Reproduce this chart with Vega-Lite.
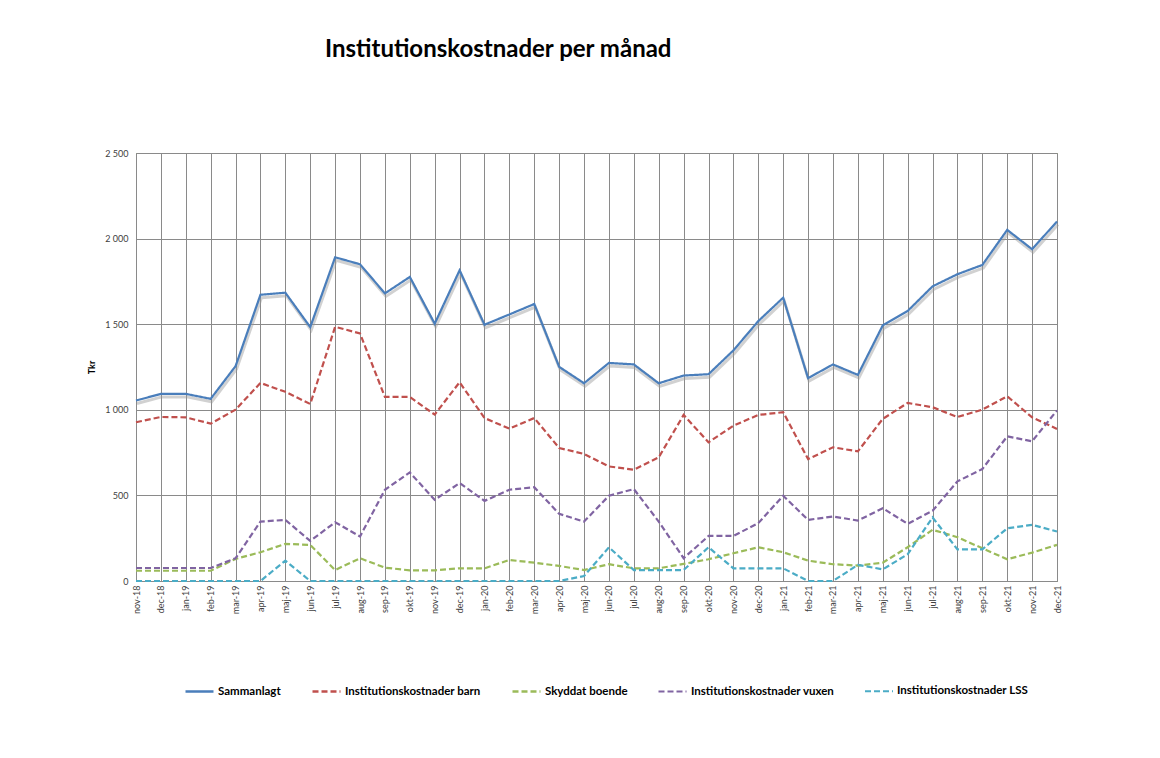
{
  "$schema": "https://vega.github.io/schema/vega-lite/v6.json",
  "autosize": {"type": "none"},
  "width": 921,
  "height": 428,
  "padding": {"left": 136, "top": 153, "right": 103, "bottom": 177},
  "background": "white",
  "title": {
    "text": "Institutionskostnader per månad",
    "anchor": "start",
    "frame": "group",
    "dx": 189,
    "offset": 87,
    "font": "Lato",
    "fontSize": 24,
    "fontWeight": "bold",
    "color": "#000000"
  },
  "data": {
    "values": [
      {"month": "nov-18", "Sammanlagt": 1054, "Institutionskostnader barn": 927, "Skyddat boende": 60, "Institutionskostnader vuxen": 76, "Institutionskostnader LSS": 0},
      {"month": "dec-18", "Sammanlagt": 1093, "Institutionskostnader barn": 958, "Skyddat boende": 60, "Institutionskostnader vuxen": 76, "Institutionskostnader LSS": 0},
      {"month": "jan-19", "Sammanlagt": 1093, "Institutionskostnader barn": 956, "Skyddat boende": 60, "Institutionskostnader vuxen": 76, "Institutionskostnader LSS": 0},
      {"month": "feb-19", "Sammanlagt": 1064, "Institutionskostnader barn": 919, "Skyddat boende": 60, "Institutionskostnader vuxen": 76, "Institutionskostnader LSS": 0},
      {"month": "mar-19", "Sammanlagt": 1255, "Institutionskostnader barn": 1001, "Skyddat boende": 129, "Institutionskostnader vuxen": 133, "Institutionskostnader LSS": 0},
      {"month": "apr-19", "Sammanlagt": 1672, "Institutionskostnader barn": 1157, "Skyddat boende": 168, "Institutionskostnader vuxen": 347, "Institutionskostnader LSS": 0},
      {"month": "maj-19", "Sammanlagt": 1684, "Institutionskostnader barn": 1105, "Skyddat boende": 217, "Institutionskostnader vuxen": 357, "Institutionskostnader LSS": 119},
      {"month": "jun-19", "Sammanlagt": 1483, "Institutionskostnader barn": 1034, "Skyddat boende": 211, "Institutionskostnader vuxen": 234, "Institutionskostnader LSS": 0},
      {"month": "jul-19", "Sammanlagt": 1891, "Institutionskostnader barn": 1485, "Skyddat boende": 64, "Institutionskostnader vuxen": 343, "Institutionskostnader LSS": 0},
      {"month": "aug-19", "Sammanlagt": 1850, "Institutionskostnader barn": 1446, "Skyddat boende": 133, "Institutionskostnader vuxen": 260, "Institutionskostnader LSS": 0},
      {"month": "sep-19", "Sammanlagt": 1680, "Institutionskostnader barn": 1075, "Skyddat boende": 78, "Institutionskostnader vuxen": 533, "Institutionskostnader LSS": 0},
      {"month": "okt-19", "Sammanlagt": 1776, "Institutionskostnader barn": 1075, "Skyddat boende": 62, "Institutionskostnader vuxen": 634, "Institutionskostnader LSS": 0},
      {"month": "nov-19", "Sammanlagt": 1503, "Institutionskostnader barn": 972, "Skyddat boende": 62, "Institutionskostnader vuxen": 474, "Institutionskostnader LSS": 0},
      {"month": "dec-19", "Sammanlagt": 1815, "Institutionskostnader barn": 1161, "Skyddat boende": 74, "Institutionskostnader vuxen": 572, "Institutionskostnader LSS": 0},
      {"month": "jan-20", "Sammanlagt": 1497, "Institutionskostnader barn": 952, "Skyddat boende": 74, "Institutionskostnader vuxen": 468, "Institutionskostnader LSS": 0},
      {"month": "feb-20", "Sammanlagt": 1557, "Institutionskostnader barn": 890, "Skyddat boende": 123, "Institutionskostnader vuxen": 533, "Institutionskostnader LSS": 0},
      {"month": "mar-20", "Sammanlagt": 1618, "Institutionskostnader barn": 952, "Skyddat boende": 107, "Institutionskostnader vuxen": 548, "Institutionskostnader LSS": 0},
      {"month": "apr-20", "Sammanlagt": 1251, "Institutionskostnader barn": 777, "Skyddat boende": 88, "Institutionskostnader vuxen": 392, "Institutionskostnader LSS": 0},
      {"month": "maj-20", "Sammanlagt": 1155, "Institutionskostnader barn": 742, "Skyddat boende": 64, "Institutionskostnader vuxen": 347, "Institutionskostnader LSS": 29},
      {"month": "jun-20", "Sammanlagt": 1274, "Institutionskostnader barn": 669, "Skyddat boende": 98, "Institutionskostnader vuxen": 498, "Institutionskostnader LSS": 197},
      {"month": "jul-20", "Sammanlagt": 1265, "Institutionskostnader barn": 650, "Skyddat boende": 74, "Institutionskostnader vuxen": 537, "Institutionskostnader LSS": 64},
      {"month": "aug-20", "Sammanlagt": 1155, "Institutionskostnader barn": 722, "Skyddat boende": 74, "Institutionskostnader vuxen": 347, "Institutionskostnader LSS": 64},
      {"month": "sep-20", "Sammanlagt": 1200, "Institutionskostnader barn": 970, "Skyddat boende": 100, "Institutionskostnader vuxen": 133, "Institutionskostnader LSS": 64},
      {"month": "okt-20", "Sammanlagt": 1208, "Institutionskostnader barn": 810, "Skyddat boende": 127, "Institutionskostnader vuxen": 263, "Institutionskostnader LSS": 197},
      {"month": "nov-20", "Sammanlagt": 1347, "Institutionskostnader barn": 907, "Skyddat boende": 162, "Institutionskostnader vuxen": 263, "Institutionskostnader LSS": 74},
      {"month": "dec-20", "Sammanlagt": 1518, "Institutionskostnader barn": 970, "Skyddat boende": 197, "Institutionskostnader vuxen": 338, "Institutionskostnader LSS": 74},
      {"month": "jan-21", "Sammanlagt": 1655, "Institutionskostnader barn": 986, "Skyddat boende": 168, "Institutionskostnader vuxen": 498, "Institutionskostnader LSS": 74},
      {"month": "feb-21", "Sammanlagt": 1185, "Institutionskostnader barn": 712, "Skyddat boende": 119, "Institutionskostnader vuxen": 357, "Institutionskostnader LSS": 0},
      {"month": "mar-21", "Sammanlagt": 1265, "Institutionskostnader barn": 781, "Skyddat boende": 98, "Institutionskostnader vuxen": 377, "Institutionskostnader LSS": 0},
      {"month": "apr-21", "Sammanlagt": 1204, "Institutionskostnader barn": 757, "Skyddat boende": 90, "Institutionskostnader vuxen": 353, "Institutionskostnader LSS": 94},
      {"month": "maj-21", "Sammanlagt": 1493, "Institutionskostnader barn": 947, "Skyddat boende": 107, "Institutionskostnader vuxen": 425, "Institutionskostnader LSS": 68},
      {"month": "jun-21", "Sammanlagt": 1577, "Institutionskostnader barn": 1040, "Skyddat boende": 197, "Institutionskostnader vuxen": 334, "Institutionskostnader LSS": 156},
      {"month": "jul-21", "Sammanlagt": 1721, "Institutionskostnader barn": 1015, "Skyddat boende": 299, "Institutionskostnader vuxen": 410, "Institutionskostnader LSS": 371},
      {"month": "aug-21", "Sammanlagt": 1792, "Institutionskostnader barn": 958, "Skyddat boende": 256, "Institutionskostnader vuxen": 582, "Institutionskostnader LSS": 185},
      {"month": "sep-21", "Sammanlagt": 1846, "Institutionskostnader barn": 1001, "Skyddat boende": 191, "Institutionskostnader vuxen": 654, "Institutionskostnader LSS": 185},
      {"month": "okt-21", "Sammanlagt": 2051, "Institutionskostnader barn": 1079, "Skyddat boende": 127, "Institutionskostnader vuxen": 845, "Institutionskostnader LSS": 308},
      {"month": "nov-21", "Sammanlagt": 1938, "Institutionskostnader barn": 956, "Skyddat boende": 166, "Institutionskostnader vuxen": 816, "Institutionskostnader LSS": 328},
      {"month": "dec-21", "Sammanlagt": 2100, "Institutionskostnader barn": 888, "Skyddat boende": 211, "Institutionskostnader vuxen": 997, "Institutionskostnader LSS": 289}
    ]
  },
  "transform": [
    {"fold": ["Sammanlagt", "Institutionskostnader barn", "Skyddat boende", "Institutionskostnader vuxen", "Institutionskostnader LSS"], "as": ["serie", "value"]}
  ],
  "encoding": {
    "x": {
      "field": "month",
      "type": "ordinal",
      "sort": null,
      "scale": {"type": "point", "padding": 0},
      "axis": {
        "title": null,
        "labelAngle": -90,
        "labelFont": "Lato",
        "labelFontSize": 9,
        "labelColor": "#404040",
        "labelPadding": 4,
        "grid": true,
        "gridColor": "#8a8a8a",
        "gridWidth": 1,
        "domainColor": "#8a8a8a",
        "ticks": false
      }
    },
    "y": {
      "field": "value",
      "type": "quantitative",
      "scale": {"domain": [0, 2500], "nice": false},
      "axis": {
        "title": "Tkr",
        "titleFont": "Lato",
        "titleFontSize": 9,
        "titleFontWeight": "bold",
        "titleColor": "#000000",
        "titlePadding": 8,
        "values": [0, 500, 1000, 1500, 2000, 2500],
        "labelExpr": "replace(format(datum.value, ','), ',', ' ')",
        "labelFont": "Lato",
        "labelFontSize": 9,
        "labelColor": "#404040",
        "labelPadding": 8,
        "grid": true,
        "gridColor": "#8a8a8a",
        "gridWidth": 1,
        "domainColor": "#8a8a8a",
        "ticks": false
      }
    }
  },
  "layer": [
    {
      "transform": [{"filter": "datum.serie === 'Sammanlagt'"}],
      "mark": {"type": "line", "color": "#9a9a9a", "opacity": 0.45, "strokeWidth": 3, "yOffset": 3, "xOffset": 1},
      "encoding": {}
    },
    {
      "mark": {"type": "line", "strokeWidth": 2.2},
      "encoding": {
        "color": {
          "field": "serie",
          "type": "nominal",
          "scale": {
            "domain": ["Sammanlagt", "Institutionskostnader barn", "Skyddat boende", "Institutionskostnader vuxen", "Institutionskostnader LSS"],
            "range": ["#4A7EBB", "#C0504D", "#9BBB59", "#8064A2", "#4BACC6"]
          },
          "legend": {
            "title": null,
            "orient": "none",
            "legendX": 48,
            "legendY": 523,
            "direction": "horizontal",
            "symbolType": "stroke",
            "symbolSize": 784,
            "symbolStrokeWidth": 2.5,
            "labelFont": "Lato",
            "labelFontSize": 11.5,
            "labelFontWeight": "bold",
            "labelColor": "#000000",
            "labelOffset": 3,
            "columnPadding": 26
          }
        },
        "strokeDash": {
          "field": "serie",
          "type": "nominal",
          "scale": {
            "domain": ["Sammanlagt", "Institutionskostnader barn", "Skyddat boende", "Institutionskostnader vuxen", "Institutionskostnader LSS"],
            "range": [[1, 0], [6, 3], [6, 3], [6, 3], [6, 3]]
          },
          "legend": {
            "title": null,
            "orient": "none",
            "legendX": 48,
            "legendY": 523,
            "direction": "horizontal",
            "symbolType": "stroke",
            "symbolSize": 784,
            "symbolStrokeWidth": 2.5,
            "labelFont": "Lato",
            "labelFontSize": 11.5,
            "labelFontWeight": "bold",
            "labelColor": "#000000",
            "labelOffset": 3,
            "columnPadding": 26
          }
        },
        "strokeWidth": {
          "field": "serie",
          "type": "nominal",
          "scale": {
            "domain": ["Sammanlagt", "Institutionskostnader barn", "Skyddat boende", "Institutionskostnader vuxen", "Institutionskostnader LSS"],
            "range": [2.6, 2, 2, 2, 2]
          },
          "legend": null
        }
      }
    }
  ],
  "config": {
    "view": {"stroke": "#9BBB59", "strokeWidth": 1}
  }
}
